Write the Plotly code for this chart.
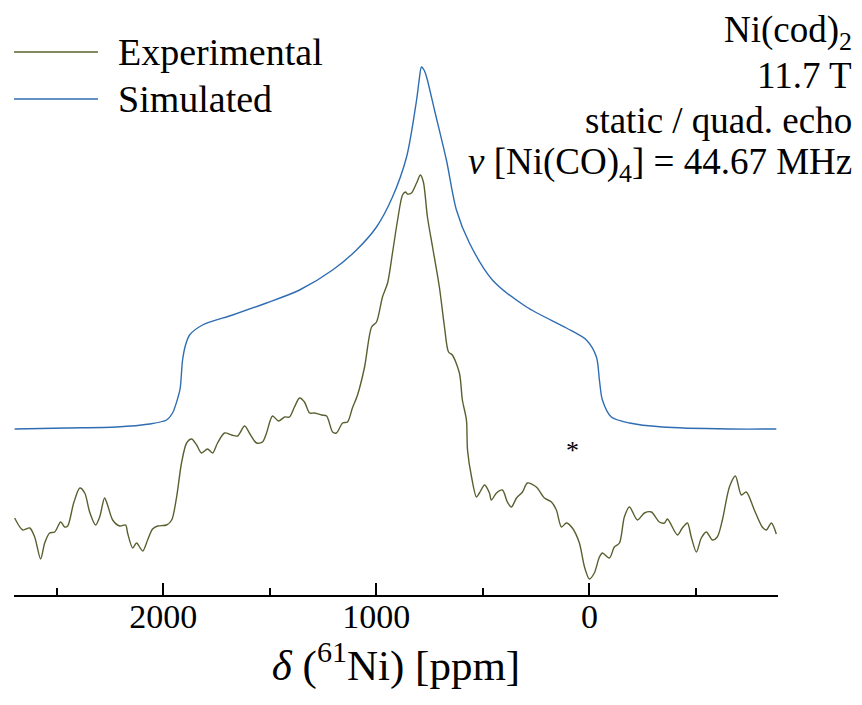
import plotly.graph_objects as go

# Chemical shift (ppm) and intensity (arbitrary units, simulated trace offset above experimental)
sim_ppm = [2697, 2453, 2218, 2064, 1984, 1956, 1930, 1920, 1909, 1895, 1876, 1815, 1674, 1515,
           1360, 1205, 1093, 999, 924, 858, 811, 800, 788, 776, 764, 727, 671, 624, 563, 455,
           295, 108, 14, -33, -47, -61, -103, -188, -342, -657, -877]
sim_int = [171, 172, 173, 176, 180, 187, 203, 212, 240, 255, 265, 275, 285, 297,
           310, 330, 350, 373, 403, 443, 500, 518, 533, 530, 523, 490, 440, 390, 357, 320,
           293, 272, 260, 243, 220, 200, 183, 177, 173, 171, 171]

exp_ppm = [2697, 2659, 2626, 2603, 2575, 2556, 2533, 2509, 2481, 2462, 2448, 2420, 2391, 2368,
           2345, 2317, 2298, 2275, 2261, 2237, 2204, 2176, 2167, 2143, 2125, 2096, 2073, 2050,
           2026, 1984, 1960, 1937, 1914, 1890, 1867, 1843, 1820, 1792, 1768, 1745, 1712, 1679,
           1651, 1618, 1590, 1562, 1534, 1515, 1487, 1459, 1430, 1407, 1384, 1360, 1337, 1313,
           1290, 1257, 1233, 1205, 1187, 1158, 1135, 1112, 1088, 1055, 1022, 999, 971, 947,
           924, 900, 877, 863, 854, 835, 811, 793, 779, 760, 736, 704, 680, 661, 643, 610,
           596, 577, 572, 553, 530, 516, 492, 469, 460, 436, 408, 385, 366, 342, 314, 291,
           249, 211, 178, 155, 131, 108, 80, 47, 23, 0, -23, -47, -61, -94, -117, -141,
           -164, -188, -225, -258, -291, -328, -352, -366, -413, -436, -460, -478, -502, -525,
           -549, -577, -600, -624, -657, -685, -713, -736, -774, -811, -830, -854, -877]
exp_int = [82, 70, 72, 63, 41, 57, 67, 68, 78, 73, 74, 97, 112, 107,
           88, 75, 83, 102, 95, 80, 74, 75, 67, 52, 57, 49, 60, 71,
           74, 75, 80, 103, 137, 157, 161, 155, 147, 151, 147, 157, 167, 165,
           164, 174, 165, 157, 158, 167, 184, 179, 183, 183, 193, 202, 198, 187,
           187, 185, 184, 168, 167, 177, 178, 192, 205, 233, 273, 278, 303, 317,
           347, 380, 405, 408, 406, 407, 417, 425, 418, 383, 353, 313, 273, 248, 245, 227,
           200, 180, 150, 123, 103, 107, 115, 107, 100, 107, 110, 98, 93, 102, 108, 117,
           113, 102, 98, 90, 73, 77, 72, 57, 33, 21, 27, 43, 47, 42, 53, 57,
           83, 93, 80, 87, 88, 78, 77, 81, 65, 72, 77, 63, 48, 62,
           68, 60, 63, 80, 113, 124, 105, 108, 90, 73, 70, 77, 66]

x_range = [2700, -885]
major_ticks = [2000, 1000, 0]
tick_labels = ["2000", "1000", "0"]
minor_ticks = [2500, 1500, 500, -500]

series_names = ["Experimental", "Simulated"]
exp_color = "#59602f"
sim_color = "#2f6db3"

info_lines = ["Ni(cod)<sub>2</sub>", "11.7 T", "static / quad. echo",
              "<i>ν</i> [Ni(CO)<sub>4</sub>] = 44.67 MHz"]

FONT = "Liberation Serif"

# page has an 8px body margin; figure sized to fit inside the window
OFF = 8
W, H = 846, 689
ML, MR, MT, MB = 6, 76, 2, 102
PW, PH = W - ML - MR, H - MT - MB


def px(xp):
    return (xp - OFF - ML) / PW


def py(yp):
    return (H - MB - (yp - OFF)) / PH


fig = go.Figure()
fig.add_trace(go.Scatter(x=exp_ppm, y=exp_int, mode="lines", name=series_names[0],
                         line=dict(color=exp_color, width=1.4, shape="spline", smoothing=0.8),
                         showlegend=False))
fig.add_trace(go.Scatter(x=sim_ppm, y=sim_int, mode="lines", name=series_names[1],
                         line=dict(color=sim_color, width=1.4, shape="spline", smoothing=0.8),
                         showlegend=False))

# legend (drawn manually to match long sample lines)
for i, (name, col) in enumerate(zip(series_names, [exp_color, sim_color])):
    yy = py(52 + i * 47)
    fig.add_shape(type="line", xref="paper", yref="paper", x0=px(14), x1=px(98), y0=yy, y1=yy,
                  line=dict(color=col, width=1.6))
    fig.add_annotation(xref="paper", yref="paper", x=px(116), y=yy, text=name, showarrow=False,
                       xanchor="left", yanchor="middle", font=dict(family=FONT, size=38, color="black"))

# info text top right
for i, t in enumerate(info_lines):
    if i == 0:
        yy, anchor = py(8), "top"
    else:
        yy, anchor = py(30 + i * 45), "middle"
    fig.add_annotation(xref="paper", yref="paper", x=px(853), y=yy, text=t,
                       showarrow=False, xanchor="right", yanchor=anchor, borderpad=0,
                       font=dict(family=FONT, size=37, color="black"))

# asterisk marker
fig.add_annotation(x=80, y=150, text="*", showarrow=False, font=dict(family=FONT, size=26, color="black"))

fig.update_layout(
    width=W, height=H,
    margin=dict(l=ML, r=MR, t=MT, b=MB),
    paper_bgcolor="white", plot_bgcolor="white",
    font=dict(family=FONT, color="black"),
    xaxis=dict(range=x_range, tickmode="array", tickvals=major_ticks, ticktext=tick_labels,
               ticks="inside", ticklen=12, tickwidth=2, tickcolor="black",
               showline=True, linecolor="black", linewidth=2, showgrid=False, zeroline=False,
               tickfont=dict(family=FONT, size=34, color="black"), ticklabelstandoff=-10,
               minor=dict(tickvals=minor_ticks, ticks="inside", ticklen=7,
                          tickwidth=2, tickcolor="black", showgrid=False),
               title=dict(text="<i>δ</i> (<sup>61</sup>Ni) [ppm]",
                          font=dict(family=FONT, size=43, color="black"), standoff=0)),
    yaxis=dict(range=[5, 590], visible=False),
)

fig.write_html("out.html")
